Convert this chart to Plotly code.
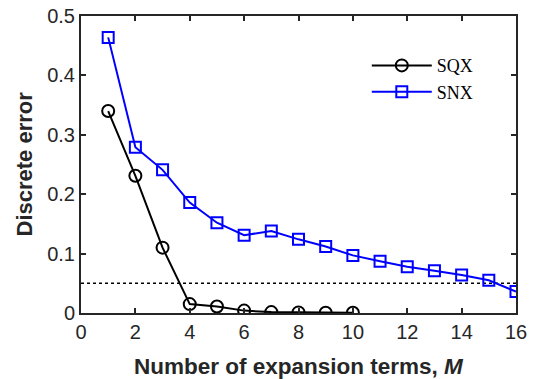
import plotly.graph_objects as go

M_sqx = [1, 2, 3, 4, 5, 6, 7, 8, 9, 10]
err_sqx = [0.340, 0.231, 0.110, 0.015, 0.011, 0.004, 0.0015, 0.001, 0.0003, 0.0003]
M_snx = [1, 2, 3, 4, 5, 6, 7, 8, 9, 10, 11, 12, 13, 14, 15, 16]
err_snx = [0.464, 0.279, 0.241, 0.186, 0.152, 0.131, 0.138, 0.124, 0.112, 0.097,
           0.087, 0.078, 0.071, 0.064, 0.055, 0.036]
threshold_x = [0, 16]
threshold_y = [0.05, 0.05]
x_ticks = [0, 2, 4, 6, 8, 10, 12, 14, 16]
y_ticks = [0, 0.1, 0.2, 0.3, 0.4, 0.5]
y_tick_text = ["0", "0.1", "0.2", "0.3", "0.4", "0.5"]
x_title = "<b>Number of expansion terms, <i>M</i></b>"
y_title = "<b>Discrete error</b>"

axcol = "#262626"
fig = go.Figure()
fig.add_trace(go.Scatter(x=threshold_x, y=threshold_y, mode="lines",
                         line=dict(color="black", width=1.5, dash="dot"),
                         showlegend=False, hoverinfo="skip"))
fig.add_trace(go.Scatter(x=M_sqx, y=err_sqx, mode="lines+markers", name="SQX",
                         line=dict(color="black", width=2),
                         marker=dict(symbol="circle-open", size=12, color="black",
                                     line=dict(width=2, color="black"))))
fig.add_trace(go.Scatter(x=M_snx, y=err_snx, mode="lines+markers", name="SNX",
                         line=dict(color="#0000ff", width=2),
                         marker=dict(symbol="square-open", size=11, color="#0000ff",
                                     line=dict(width=2, color="#0000ff"))))

fig.update_layout(
    width=536, height=379,
    margin=dict(l=81, r=20, t=16, b=66, autoexpand=False),
    paper_bgcolor="white", plot_bgcolor="white",
    font=dict(family="Liberation Sans, Arial", color=axcol),
    legend=dict(x=0.657, y=0.895, xanchor="left", yanchor="top",
                bgcolor="rgba(0,0,0,0)",
                font=dict(family="Liberation Serif, Times New Roman", size=18, color="black"),
                itemwidth=60, tracegroupgap=0),
    xaxis=dict(range=[0, 16], tickvals=x_ticks, ticks="inside", ticklen=5,
               tickwidth=1.5, tickcolor=axcol, showline=True, linewidth=2,
               linecolor=axcol, mirror="ticks", showgrid=False, zeroline=False,
               tickfont=dict(size=20, color=axcol), automargin=False),
    yaxis=dict(range=[0, 0.5], tickvals=y_ticks, ticktext=y_tick_text, ticks="inside",
               ticklen=5, tickwidth=1.5, tickcolor=axcol, showline=True, linewidth=2,
               linecolor=axcol, mirror="ticks", showgrid=False, zeroline=False,
               tickfont=dict(size=20, color=axcol), automargin=False),
    annotations=[
        dict(text=x_title, xref="paper", yref="paper", x=0.5, y=0, xanchor="center",
             yanchor="middle", yshift=-53, showarrow=False,
             font=dict(size=22.5, color=axcol)),
        dict(text=y_title, xref="paper", yref="paper", x=0, y=0.5, xanchor="center",
             yanchor="middle", xshift=-57, textangle=-90, showarrow=False,
             font=dict(size=22, color=axcol)),
    ],
)
fig.write_html("out.html")
